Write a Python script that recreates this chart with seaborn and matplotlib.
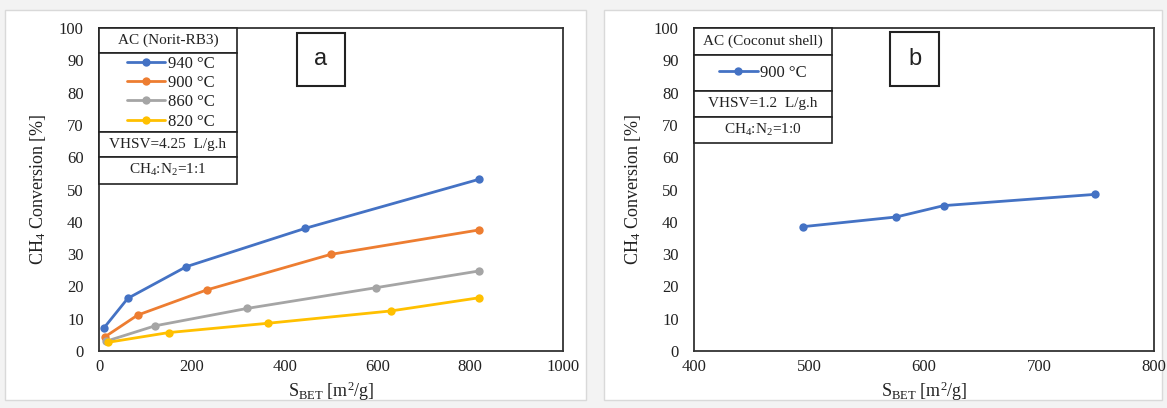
import matplotlib
matplotlib.use("Agg")
import matplotlib.pyplot as plt
from matplotlib.patches import Rectangle
import seaborn as sns
import pandas as pd

sns.set_theme(style="white")
plt.rcParams["font.family"] = ["Liberation Serif", "DejaVu Serif"]
plt.rcParams["mathtext.fontset"] = "custom"
plt.rcParams["mathtext.rm"] = "Liberation Serif"
plt.rcParams["mathtext.it"] = "Liberation Serif:italic"
plt.rcParams["mathtext.bf"] = "Liberation Serif:bold"

# ---- data: panel a (AC Norit-RB3) ----
sbet_940 = [11, 62, 188, 445, 820]
conv_940 = [7.2, 16.3, 26.1, 38.0, 53.2]
sbet_900 = [13, 83, 232, 499, 820]
conv_900 = [4.4, 11.1, 18.9, 29.9, 37.5]
sbet_860 = [15, 121, 320, 597, 820]
conv_860 = [3.0, 7.8, 13.2, 19.6, 24.8]
sbet_820 = [20, 150, 365, 629, 820]
conv_820 = [2.7, 5.7, 8.6, 12.4, 16.5]
labels_a = ["940 °C", "900 °C", "860 °C", "820 °C"]
colors_a = ["#4472C4", "#ED7D31", "#A5A5A5", "#FFC000"]

# ---- data: panel b (AC coconut shell) ----
sbet_b = [495, 576, 617, 749]
conv_b = [38.5, 41.5, 45.0, 48.5]
label_b = "900 °C"

W, H = 1167, 408
fig = plt.figure(figsize=(W / 100, H / 100), dpi=100)
fig.patch.set_facecolor("#f3f3f3")

def px_rect(x0, y0, x1, y1, **kw):
    fig.patches.append(Rectangle((x0 / W, 1 - y1 / H), (x1 - x0) / W, (y1 - y0) / H,
                                 transform=fig.transFigure, **kw))

px_rect(5, 10, 586, 400, facecolor="white", edgecolor="#d9d9d9", lw=1, zorder=-5)
px_rect(604, 10, 1162, 400, facecolor="white", edgecolor="#d9d9d9", lw=1, zorder=-5)

def make_ax(x0, x1):
    ax = fig.add_axes([x0 / W, (H - 351) / H, (x1 - x0) / W, 323 / H])
    ax.set_facecolor("white")
    for s in ax.spines.values():
        s.set_color("#333333")
        s.set_linewidth(1.3)
    ax.tick_params(axis="both", length=0, labelsize=12, colors="#222222")
    ax.tick_params(axis="y", pad=11)
    ax.tick_params(axis="x", pad=6)
    ax.set_ylim(0, 100)
    ax.set_yticks(range(0, 101, 10))
    return ax

def table(ax, right, rows, texts):
    tr = ax.transAxes
    for i in range(len(rows) - 1):
        ax.add_patch(Rectangle((0, rows[i + 1]), right, rows[i] - rows[i + 1], transform=tr,
                               facecolor="white", edgecolor="#222222", lw=1.2, zorder=5,
                               clip_on=False))
    for (y, t) in texts:
        ax.text(right / 2, y, t, transform=tr, ha="center", va="center", fontsize=11,
                color="#222222", zorder=6)

def letter(ax, x0, x1, y0, y1, t):
    ax.add_patch(Rectangle((x0, y0), x1 - x0, y1 - y0, transform=ax.transAxes,
                           facecolor="white", edgecolor="#222222", lw=1.5, zorder=5))
    ax.text((x0 + x1) / 2, (y0 + y1) / 2, t, transform=ax.transAxes, ha="center",
            va="center", fontsize=17, family="Liberation Sans", color="#222222", zorder=6)

# ---- panel a ----
axa = make_ax(99, 563)
series = [(sbet_940, conv_940), (sbet_900, conv_900), (sbet_860, conv_860), (sbet_820, conv_820)]
for (xs, ys), lab, col in zip(series, labels_a, colors_a):
    df = pd.DataFrame({"x": xs, "y": ys})
    sns.lineplot(data=df, x="x", y="y", ax=axa, color=col, marker="o", markersize=6,
                 markeredgewidth=0, linewidth=2, label=lab, zorder=3, clip_on=False)
axa.set_xlim(0, 1000)
axa.set_xticks(range(0, 1001, 200))
axa.set_xlabel("S$_\\mathrm{BET}$ [m$^2$/g]", fontsize=13, labelpad=3, color="#222222")
axa.set_ylabel("CH$_4$ Conversion [%]", fontsize=13, labelpad=8, color="#222222")
table(axa, 0.297, [1.0, 0.923, 0.678, 0.601, 0.517],
      [(0.961, "AC (Norit-RB3)"), (0.639, "VHSV=4.25  L/g.h"), (0.559, "CH$_4$:N$_2$=1:1")])
leg = axa.legend(loc="center", bbox_to_anchor=(0.155, 0.800), frameon=False, fontsize=12,
                 handlelength=2.3, handletextpad=0.15, labelspacing=0.2, borderaxespad=0)
leg.set_zorder(7)
for t in leg.get_texts():
    t.set_color("#222222")
letter(axa, 0.427, 0.530, 0.820, 0.985, "a")

# ---- panel b ----
axb = make_ax(694, 1154)
dfb = pd.DataFrame({"x": sbet_b, "y": conv_b})
sns.lineplot(data=dfb, x="x", y="y", ax=axb, color="#4472C4", marker="o", markersize=6,
             markeredgewidth=0, linewidth=2, label=label_b, zorder=3)
axb.set_xlim(400, 800)
axb.set_xticks(range(400, 801, 100))
axb.set_xlabel("S$_\\mathrm{BET}$ [m$^2$/g]", fontsize=13, labelpad=3, color="#222222")
axb.set_ylabel("CH$_4$ Conversion [%]", fontsize=13, labelpad=8, color="#222222")
table(axb, 0.300, [1.0, 0.916, 0.805, 0.724, 0.644],
      [(0.958, "AC (Coconut shell)"), (0.765, "VHSV=1.2  L/g.h"), (0.684, "CH$_4$:N$_2$=1:0")])
legb = axb.legend(loc="center", bbox_to_anchor=(0.150, 0.861), frameon=False, fontsize=12,
                  handlelength=2.3, handletextpad=0.15, borderaxespad=0)
legb.set_zorder(7)
for t in legb.get_texts():
    t.set_color("#222222")
letter(axb, 0.426, 0.533, 0.820, 0.988, "b")

fig.savefig("out.png", dpi=100, facecolor=fig.get_facecolor())
